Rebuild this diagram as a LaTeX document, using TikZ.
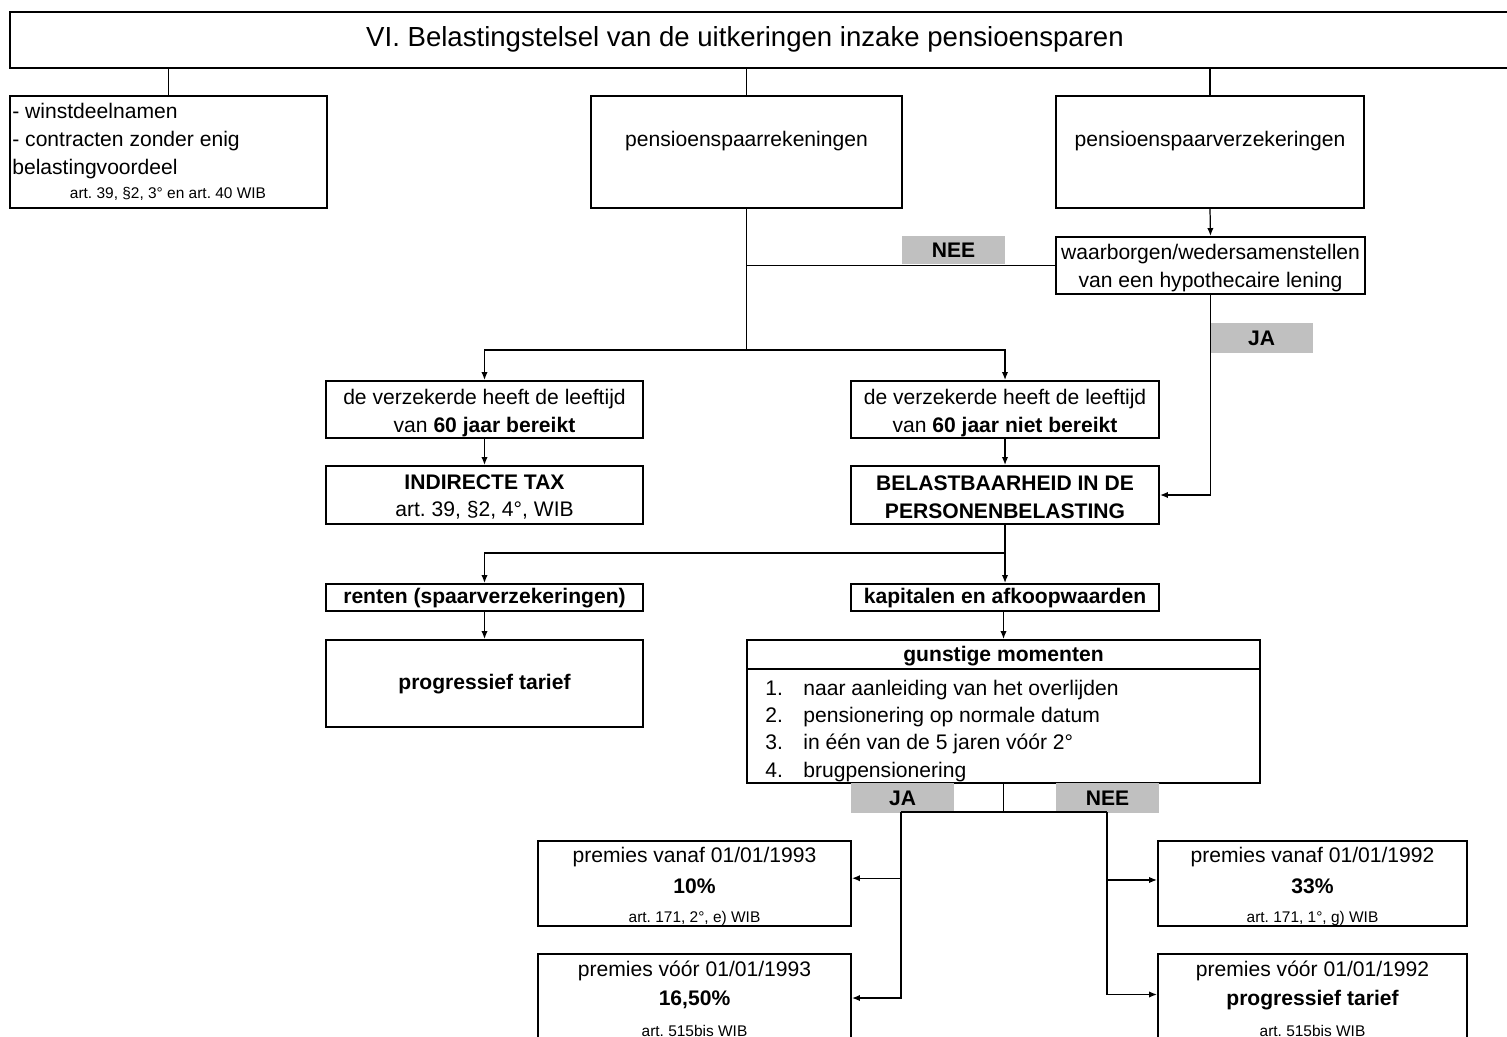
\documentclass[tikz,border=0pt]{standalone}
\usepackage{fontspec}
\setmainfont{Liberation Sans}
\usetikzlibrary{arrows.meta,fit}
\definecolor{taggray}{RGB}{192,192,192}
\newcommand\bodyfont{\fontsize{12}{15.9}\selectfont}
\newcommand\notefont{\fontsize{8.8}{10}\selectfont}
\frenchspacing
\tikzset{
	box/.style={draw=black, line width=1.2pt, inner sep=0pt},
	tag/.style={fill=taggray, inner sep=0pt},
	bold/.style={font=\bodyfont\bfseries},
	conn/.style={line width=0.7pt},
	arr/.style={conn, -{Latex[length=4.5pt,width=3.6pt]}},
	note/.style={font=\notefont},
}

\begin{document}
\begin{tikzpicture}[x=0.02cm, y=-0.02cm, font=\bodyfont]
	\useasboundingbox (0,0) rectangle (1507,1037);

	% top row
	\node[box, fit={(10,12) (1515,68)}] (title) {};
	\node[font=\fontsize{15.7}{18}\selectfont] (title-t) at (745,39) {VI. Belastingstelsel van de uitkeringen inzake pensioensparen};
	\node[box, fit={(10,96) (327,208)}] (winst) {};
	\node[anchor=west, align=left, inner sep=0] (winst-t) at (12,141) {- winstdeelnamen\\- contracten zonder enig\\belastingvoordeel};
	\node[note] (winst-n) at (168,194) {art. 39, §2, 3° en art. 40 WIB};
	\node[box, fit={(591,96) (902,208)}] (rek) {};
	\node (rek-t) at (746.5,141) {pensioenspaarrekeningen};
	\node[box, fit={(1056,96) (1364,208)}] (verz) {};
	\node (verz-t) at (1210,141) {pensioenspaarverzekeringen};
	\node[box, fit={(1056,237) (1365,294)}] (waarb) {};
	\node[align=center] (waarb-t) at (1210.5,268) {waarborgen/wedersamenstellen\\van een hypothecaire lening};

	% leeftijd
	\node[box, fit={(326,381) (643,438)}] (leeft) {};
	\node[align=center] (leeft-t) at (484.5,413) {de verzekerde heeft de leeftijd\\van \textbf{60 jaar bereikt}};
	\node[box, fit={(851,381) (1159,438)}] (niet) {};
	\node[align=center] (niet-t) at (1005,413) {de verzekerde heeft de leeftijd\\van \textbf{60 jaar niet bereikt}};
	\node[box, fit={(326,466) (643,524)}] (indir) {};
	\node[align=center] (indir-t) at (484.5,497) {\textbf{INDIRECTE TAX}\\art. 39, §2, 4°, WIB};
	\node[box, fit={(851,466) (1159,524)}] (belast) {};
	\node[align=center, bold] (belast-t) at (1005,497) {BELASTBAARHEID IN DE\\PERSONENBELASTING};

	% renten / kapitalen
	\node[box, fit={(326,584) (643,611)}] (renten) {};
	\node[bold] (renten-t) at (484.5,598) {renten (spaarverzekeringen)};
	\node[box, fit={(851,584) (1159,611)}] (kapit) {};
	\node[bold] (kapit-t) at (1005,598) {kapitalen en afkoopwaarden};
	\node[box, fit={(326,640) (643,727)}] (prog) {};
	\node[bold] (prog-t) at (484.5,684) {progressief tarief};

	\node[box, fit={(747,640) (1260,783)}] (gunst) {};
	\draw[line width=1pt] (747,669) -- (1260,669);
	\node[bold] (gunst-t) at (1003.5,656) {gunstige momenten};
	\foreach \i/\t in {1/naar aanleiding van het overlijden, 2/pensionering op normale datum, 3/in één van de 5 jaren vóór 2°, 4/brugpensionering} {
		\node[anchor=base west, inner sep=0] (g\i-n) at (765, 668+27.3*\i) {\i.};
		\node[anchor=base west, inner sep=0] (g\i-t) at (803, 668+27.3*\i) {\t};
	}

	% premies
	\node[box, fit={(538,841) (851,926)}] (vanaf93) {};
	\node (vanaf93-a) at (694.5,857) {premies vanaf 01/01/1993};
	\node[bold] (vanaf93-b) at (694.5,886) {10\%};
	\node[note] (vanaf93-c) at (694.5,918) {art. 171, 2°, e) WIB};
	\node[box, fit={(538,954) (851,1042)}] (voor93) {};
	\node (voor93-a) at (694.5,971) {premies vóór 01/01/1993};
	\node[bold] (voor93-b) at (694.5,1000) {16,50\%};
	\node[note] (voor93-c) at (694.5,1031) {art. 515bis WIB};
	\node[box, fit={(1158,841) (1467,926)}] (vanaf92) {};
	\node (vanaf92-a) at (1312.5,857) {premies vanaf 01/01/1992};
	\node[bold] (vanaf92-b) at (1312.5,886) {33\%};
	\node[note] (vanaf92-c) at (1312.5,918) {art. 171, 1°, g) WIB};
	\node[box, fit={(1158,954) (1467,1042)}] (voor92) {};
	\node (voor92-a) at (1312.5,971) {premies vóór 01/01/1992};
	\node[bold] (voor92-b) at (1312.5,1000) {progressief tarief};
	\node[note] (voor92-c) at (1312.5,1031) {art. 515bis WIB};

	% ja / nee labels
	\node[tag, fit={(902,236) (1005,264)}] (nee1) {};
	\node[bold] (nee1-t) at (nee1) {NEE};
	\node[tag, fit={(1210,323) (1313,353)}] (ja1) {};
	\node[bold] (ja1-t) at (ja1) {JA};
	\node[tag, fit={(851,783) (954,813)}] (ja2) {};
	\node[bold] (ja2-t) at (ja2) {JA};
	\node[tag, fit={(1056,783) (1159,813)}] (nee2) {};
	\node[bold] (nee2-t) at (nee2) {NEE};

	% connectors
	\draw[conn] (winst.north) -- (winst.north |- title.south);
	\draw[conn] (rek.north) -- (rek.north |- title.south);
	\draw[conn] (verz.north) -- (verz.north |- title.south);
	\coordinate (split) at (746.5,350);
	\draw[conn] (rek.south) -- (split);
	\draw[conn] (rek.south |- waarb.west) -- (waarb.west);
	\draw[arr] (split) -| (leeft.north);
	\draw[arr] (split) -| (niet.north);
	\draw[arr] (verz.south) -- (waarb.north);
	\draw[arr] (waarb.south) |- (belast.east);
	\draw[arr] (leeft.south) -- (indir.north);
	\draw[arr] (niet.south) -- (belast.north);
	\coordinate (split2) at (1005,553);
	\draw[conn] (belast.south) -- (split2);
	\draw[arr] (split2) -| (renten.north);
	\draw[arr] (split2) -- (kapit.north);
	\draw[arr] (renten.south) -- (prog.north);
	\draw[arr] (kapit.south -| gunst.north) -- (gunst.north);
	\coordinate (fork) at (1003.5,812);
	\coordinate (jaL) at (901,812);
	\coordinate (neeR) at (1107,812);
	\draw[conn] (gunst.south) -- (fork);
	\draw[conn] (jaL) -- (neeR);
	\draw[arr] (jaL) |- ([yshift=3pt]vanaf93.east);
	\draw[arr] (jaL) |- (voor93.east);
	\draw[arr] (neeR) |- ([yshift=2pt]vanaf92.west);
	\draw[arr] (neeR) |- ([yshift=2pt]voor92.west);
\end{tikzpicture}
\end{document}
